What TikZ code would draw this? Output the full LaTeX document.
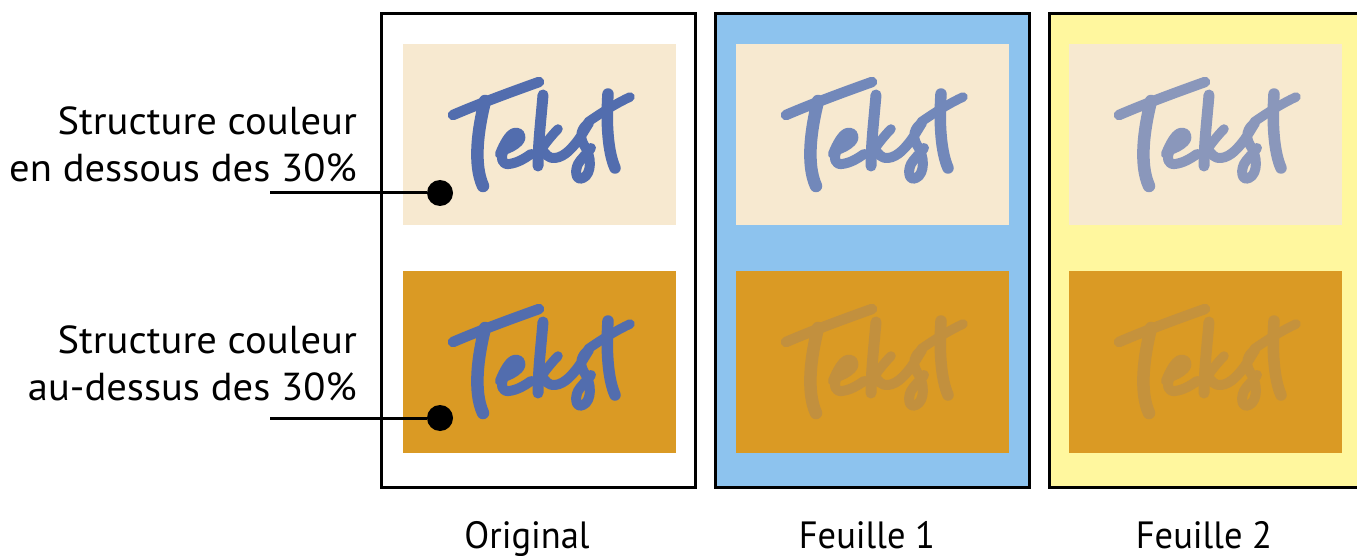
\documentclass[tikz,border=0pt]{standalone}
\usepackage{fontspec}
\setmainfont{PT Sans}
\newfontfamily\lblfont[FakeStretch=1.04]{PT Sans}
\newfontfamily\capfont[FakeStretch=0.96]{PT Sans}
\definecolor{cream}{RGB}{247,233,208}
\definecolor{orng}{RGB}{218,154,36}
\definecolor{skyb}{RGB}{141,195,238}
\definecolor{yel}{RGB}{255,247,158}
\definecolor{tkblue}{RGB}{82,109,174}
\definecolor{tkfa}{RGB}{114,136,186}
\definecolor{tkfb}{RGB}{138,151,187}
\definecolor{tkoa}{RGB}{194,144,62}
\definecolor{tkob}{RGB}{197,146,60}
\tikzset{
  panel/.style={draw=black,line width=3pt},
  lbl/.style={font=\lblfont\fontsize{39}{47}\selectfont,align=right,inner sep=0pt,anchor=base east},
  captext/.style={font=\capfont\fontsize{38}{40}\selectfont,inner sep=0pt,anchor=base},
  lead/.style={line width=3pt,draw=black},
  dot/.style={circle,fill=black,minimum size=26pt,inner sep=0pt},
  tk/.style={line width=10.5pt,line cap=round,line join=round}
}
\newcommand\Tekst[3]{%
\begin{scope}[shift={(#1,#2)}]
 \draw[tk,#3] (50,71) .. controls (78,59) and (108,48) .. (136,38);
 \draw[tk,#3,line width=12.5pt] (82,57) .. controls (75,85) and (70,120) .. (80,142);
 \draw[tk,#3,line width=10pt] (97,110) .. controls (101,100) and (106,91) .. (111,89)
   .. controls (117,87) and (120,93) .. (115,98) .. controls (111,102) and (106,104) .. (101,106)
   .. controls (97,114) and (99,121) .. (106,120) .. controls (114,119) and (121,115) .. (128,110);
 \draw[tk,#3,line width=11pt] (140,51) .. controls (138,75) and (135,100) .. (135,122);
 \draw[tk,#3,line width=9.5pt] (137,107) .. controls (142,100) and (149,91) .. (155,85);
 \draw[tk,#3,line width=10pt] (139,105) .. controls (142,110) and (146,115) .. (152,114)
   .. controls (162,113) and (170,103) .. (176,95)
   .. controls (180,89) and (184,82) .. (186,79)
   .. controls (178,84) and (176,93) .. (181,101)
   .. controls (189,112) and (189,130) .. (180,134)
   .. controls (172,138) and (171,124) .. (177,117)
   .. controls (181,112) and (185,108) .. (188,104);
 \draw[tk,#3,line width=11.5pt] (205,50) .. controls (203,80) and (205,108) .. (212,124);
 \draw[tk,#3,line width=9.5pt] (185,78) .. controls (198,69) and (212,60) .. (227,53);
\end{scope}}
\begin{document}
\begin{tikzpicture}[x=1pt,y=-1pt]
\useasboundingbox (0,0) rectangle (1357,556);
\clip (0,0) rectangle (1357,556);
% panels
\path[panel,fill=white] (381,14) rectangle (695,487);
\path[panel,fill=skyb] (715,14) rectangle (1029,487);
\path[panel,fill=yel] (1049,14) rectangle (1375,487);
% inner rectangles
\fill[cream] (403,44) rectangle (676,225);
\fill[orng] (403,271) rectangle (676,453);
\fill[cream] (736,44) rectangle (1009,225);
\fill[orng] (736,271) rectangle (1009,453);
\fill[cream] (1069,44) rectangle (1342,225);
\fill[orng] (1069,271) rectangle (1342,453);
% script text
\Tekst{403}{44}{tkblue}
\Tekst{403}{271}{tkblue}
\Tekst{736}{44}{tkfa}
\Tekst{736}{271}{tkoa}
\Tekst{1069}{44}{tkfb}
\Tekst{1069}{271}{tkob}
% labels
\node[lbl] (l1) at (357,182) {Structure couleur\\en dessous des 30\%};
\node[lbl] (l2) at (357,400) {Structure couleur\\au-dessus des 30\%};
\node[dot] (d1) at (440,193) {};
\node[dot] (d2) at (440,418) {};
\coordinate (s1) at (270,193);
\coordinate (s2) at (270,418);
\draw[lead] (s1) -- (d1);
\draw[lead] (s2) -- (d2);
% captions
\node[captext] (c1) at (527,548) {Original};
\node[captext] (c2) at (867,548) {Feuille 1};
\node[captext] (c3) at (1204,548) {Feuille 2};
\end{tikzpicture}
\end{document}
